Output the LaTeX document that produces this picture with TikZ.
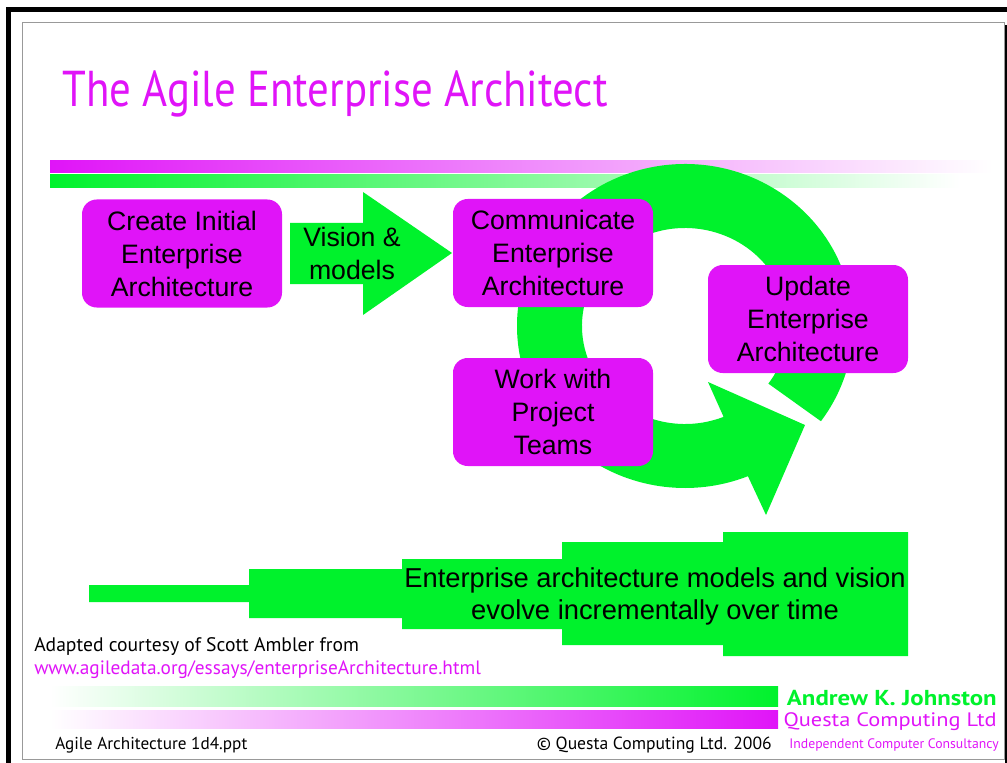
\documentclass[tikz,border=0pt]{standalone}
\usepackage{fontspec}
\setmainfont{Liberation Sans}
\newfontfamily\slidefont[FakeStretch=0.85]{PT Sans}
\newfontfamily\notefont{PT Sans}
\newfontfamily\signfont[FakeStretch=1.15]{PT Sans}
\usetikzlibrary{calc}
\definecolor{eamag}{RGB}{224,20,248}
\definecolor{eagreen}{RGB}{0,242,44}

\begin{document}
\begin{tikzpicture}[x=0.75pt,y=-0.75pt,
eabox/.style={fill=eamag,rounded corners=11pt,minimum width=150pt,minimum height=81pt,align=center,inner sep=0pt,font=\fontsize{20}{24.75}\selectfont},
eatext/.style={align=center,inner sep=0pt,font=\fontsize{20}{24.75}\selectfont},
slide/.style={inner sep=0pt}]
\useasboundingbox (0,0) rectangle (1007,763);
%slide frame
\fill (6,7) rectangle (1007,12);
\fill (6,7) rectangle (11,763);
\fill (1005,25) rectangle (1007,763);
\draw[black!40,line width=0.75pt] (22,23) rectangle (1004,759);
%title and bars
\node[slide,anchor=base west,text=eamag,font=\slidefont\fontsize{37.8}{40}\selectfont] (title) at (62,107) {The Agile Enterprise Architect};
\shade[left color=eamag,right color=white] (50,161) rectangle (992,173);
\shade[left color=eagreen,right color=white] (50,175) rectangle (960,188);
%circular arrow
\coordinate (ringc) at (685,326);
\coordinate (headin) at (708,382);
\coordinate (headtip) at (805,425);
\coordinate (headout) at (766,515);
\fill[eagreen] ($(ringc)+(-36:126pt and 121.5pt)$) arc[start angle=-36,end angle=292,x radius=126pt,y radius=121.5pt] -- (headout) -- (headtip) -- (headin) -- ($(ringc)+(292:77.25pt and 73.5pt)$) arc[start angle=292,end angle=-36,x radius=77.25pt,y radius=73.5pt] -- cycle;
%vision arrow
\fill[eagreen] (290,223) -- (363,223) -- (363,192) -- (452,253) -- (363,315) -- (363,284) -- (290,284) -- cycle;
\node[eatext] (vision) at (352,253) {Vision \&\\models};
%boxes
\node[eabox] (create) at (182,253.5) {Create Initial\\Enterprise\\Architecture};
\node[eabox] (comm) at (553,253) {Communicate\\Enterprise\\Architecture};
\node[eabox] (work) at (553,412) {Work with\\Project\\Teams};
\node[eabox] (update) at (808,319) {Update\\Enterprise\\Architecture};
%evolution arrow
\fill[eagreen] (89,585) -- (249,585) -- (249,569) -- (402,569) -- (402,559) -- (562,559) -- (562,542) -- (723,542) -- (723,532) -- (908,532) -- (908,656) -- (723,656) -- (723,645) -- (562,645) -- (562,629) -- (402,629) -- (402,618) -- (249,618) -- (249,602) -- (89,602) -- cycle;
\node[eatext,font=\fontsize{20.5}{24}\selectfont] (evolve) at (655,596) {Enterprise architecture models and vision\\evolve incrementally over time};
%source
\node[slide,anchor=base west,font=\notefont\fontsize{14.7}{18}\selectfont] (adapted) at (34,651) {Adapted courtesy of Scott Ambler from};
\node[slide,anchor=base west,text=eamag,font=\notefont\fontsize{14.5}{18}\selectfont] (url) at (34,674) {www.agiledata.org/essays/enterpriseArchitecture.html};
%footer
\shade[left color=white,right color=eagreen] (50,686) rectangle (778,706);
\shade[left color=white,right color=eamag] (50,710) rectangle (778,728);
\node[slide,anchor=base east,text=eagreen,font=\signfont\bfseries\fontsize{16.2}{18}\selectfont] (author) at (997,705) {Andrew K. Johnston};
\node[slide,anchor=base east,text=eamag,font=\signfont\fontsize{14.6}{18}\selectfont] (company) at (997,726) {Questa Computing Ltd};
\node[slide,anchor=base west,font=\notefont\fontsize{12.9}{15}\selectfont] (file) at (55,749) {Agile Architecture 1d4.ppt};
\node[slide,anchor=base east,font=\notefont\fontsize{13.2}{15}\selectfont] (copy) at (772,749) {© Questa Computing Ltd. 2006};
\node[slide,anchor=base east,text=eamag,font=\notefont\fontsize{10.3}{12}\selectfont] (consult) at (999,748) {Independent Computer Consultancy};
\end{tikzpicture}
\end{document}
